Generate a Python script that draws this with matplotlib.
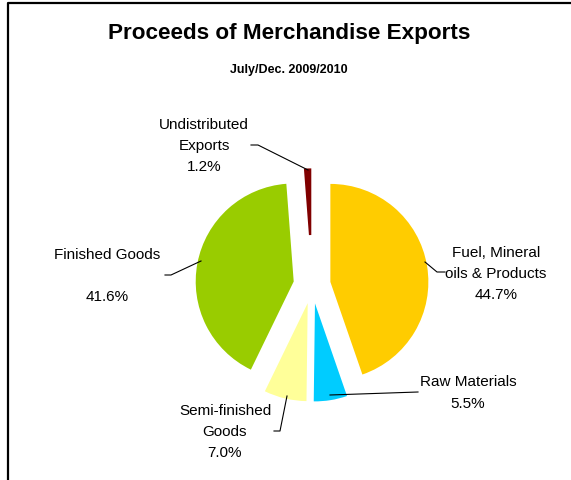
import matplotlib.pyplot as plt
from matplotlib.lines import Line2D

# data
# ----------
categories = ["Fuel, Mineral\noils & Products", "Raw Materials", "Semi-finished\nGoods",
              "Finished Goods\n", "Undistributed\nExports"]
shares = [44.7, 5.5, 7.0, 41.6, 1.2]
colors = ["#FFCC00", "#00CCFF", "#FFFF99", "#99CC00", "#800000"]

# layout in pixels (figure is 571 x 481)
W, H = 571, 481
CX, CY, R = 312, 286, 98


def px(x, y):
    # pixel position -> data units of the pie (radius 1)
    return ((x - CX) / R, (CY - y) / R)


plt.rcParams["font.family"] = ["Liberation Sans", "DejaVu Sans"]

fig = plt.figure(figsize=(W / 100, H / 100), dpi=100)
ax = fig.add_axes([0, 0, 1, 1])

wedges, _ = ax.pie(shares, colors=colors, startangle=90, counterclock=False,
                   explode=[0.19] * len(shares), radius=1.0,
                   wedgeprops=dict(linewidth=0))
# the thin sliver only shows its outer part
wedges[4].set_width(0.68)

ax.set_xlim(px(0, 0)[0], px(W, 0)[0])
ax.set_ylim(px(0, H)[1], px(0, 0)[1])
ax.set_aspect("auto")
ax.axis("off")

# labels
# ----------
label_pos = [(496, 274), (468, 393), (225, 432), (107, 276), (204, 146)]
for name, val, (x, y) in zip(categories, shares, label_pos):
    txt = name + "\n%.1f%%" % val
    ax.text(*px(x, y), txt, ha="center", va="center", fontsize=11,
            linespacing=1.68, color="#000000")

leaders = [
    [(425, 263), (437, 273), (445, 273)],
    [(330, 396), (418, 393)],
    [(287, 397), (280, 432), (274, 432)],
    [(201, 262), (171, 276), (165, 276)],
    [(308, 171), (258, 146), (251, 146)],
]
for pts in leaders:
    xs, ys = zip(*[px(x, y) for x, y in pts])
    ax.plot(xs, ys, color="black", lw=0.8)

# titles
# ----------
ax.text(*px(289, 34), "Proceeds of Merchandise Exports", ha="center", va="center",
        fontsize=16.2, fontweight="bold")
ax.text(*px(289, 70), "July/Dec. 2009/2010", ha="center", va="center",
        fontsize=9, fontweight="bold")

# frame (left and top edges)
fig.add_artist(Line2D([8 / W, 8 / W, 1], [0, 1 - 4 / H, 1 - 4 / H],
                      transform=fig.transFigure, color="black", lw=1.6))

fig.savefig("out.png", dpi=100)
